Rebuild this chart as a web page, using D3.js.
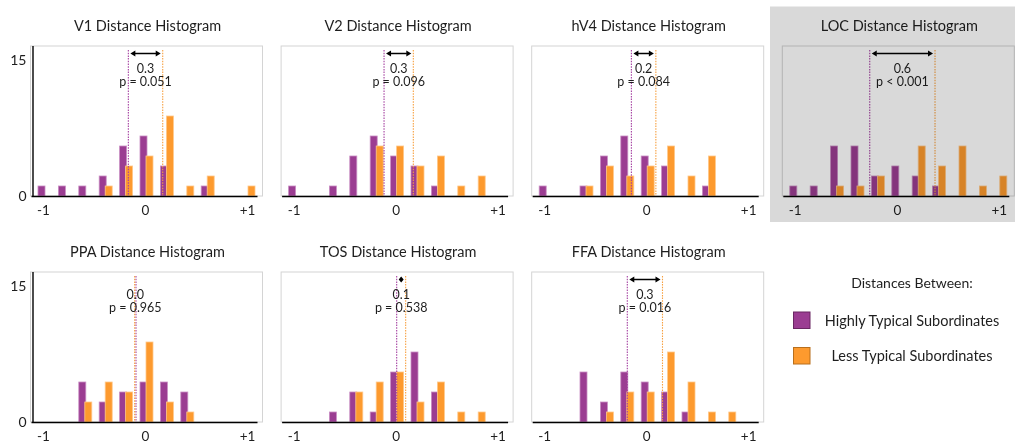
<!DOCTYPE html>
<html>
<head>
<meta charset="utf-8">
<script src="https://cdn.jsdelivr.net/npm/d3@7/dist/d3.min.js"></script>
<style>
  html, body { margin: 0; padding: 0; background: #fff; }
  svg { display: block; font-family: Lato, "Noto Sans", sans-serif; }
</style>
</head>
<body>
<svg id="chart" width="1015" height="443"></svg>
<script>
// Regions of interest, one histogram each
const regions = ["V1", "V2", "hV4", "LOC", "PPA", "TOS", "FFA"];
// Histogram bin centres (distance)
const binCenters = [-1.0, -0.8, -0.6, -0.4, -0.2, 0, 0.2, 0.4, 0.6, 0.8, 1.0];
// Counts per bin: distances between highly typical subordinates
const highCounts = [
  [1, 1, 1, 2, 5, 6, 3, 0, 1, 0, 0],
  [1, 0, 1, 4, 6, 4, 3, 1, 0, 0, 0],
  [1, 0, 1, 4, 6, 4, 3, 0, 1, 0, 0],
  [1, 1, 5, 5, 2, 3, 2, 1, 0, 0, 0],
  [0, 0, 4, 2, 3, 4, 4, 3, 0, 0, 0],
  [0, 0, 1, 3, 1, 5, 7, 3, 0, 0, 0],
  [0, 0, 5, 2, 5, 4, 3, 1, 0, 0, 0]
];
// Counts per bin: distances between less typical subordinates
const lessCounts = [
  [0, 0, 0, 1, 3, 4, 8, 1, 2, 0, 1],
  [0, 0, 0, 0, 5, 5, 3, 4, 1, 2, 0],
  [0, 0, 1, 3, 2, 3, 5, 2, 4, 0, 0],
  [0, 0, 1, 1, 2, 0, 5, 3, 5, 1, 2],
  [0, 0, 2, 4, 3, 8, 2, 1, 0, 0, 0],
  [0, 0, 0, 3, 4, 5, 2, 4, 1, 1, 0],
  [0, 0, 0, 1, 3, 3, 7, 4, 1, 1, 0]
];
// Group means (dotted lines)
const meanHigh = [-0.178, -0.128, -0.16, -0.28, -0.103, -0.004, -0.2];
const meanLess = [0.159, 0.159, 0.08, 0.36, -0.116, 0.084, 0.145];
// Significance of the mean difference
const pLabels = ["p = 0.051", "p = 0.096", "p = 0.084", "p < 0.001", "p = 0.965", "p = 0.538", "p = 0.016"];
// Axis ticks
const xTicks = [-1, 0, 1];
const yTicks = [0, 15];
const legendTitle = "Distances Between:";
const seriesNames = ["Highly Typical Subordinates", "Less Typical Subordinates"];

const PURPLE = "#9b3d92", ORANGE = "#fd9a2e";
const INK = "#1e1e1e";

const svg = d3.select("#chart");

// grid layout: 4 panels on top row, 3 below
const layout = regions.map((r, i) => ({ row: i < 4 ? 0 : 1, col: i < 4 ? i : i - 4 }));

regions.forEach((name, i) => {
  const { row, col } = layout[i];
  const cx = 146.5 + col * 250.6;
  const base = 196 + row * 226;
  const x = d3.scaleLinear().domain([-1, 1]).range([cx - 102, cx + 102]);
  const y = d3.scaleLinear().domain([0, 15]).range([base, base - 150]);
  const g = svg.append("g");

  // light frame around the plot area
  g.append("rect")
    .attr("x", cx - 116).attr("y", y(15))
    .attr("width", 232).attr("height", base - y(15))
    .attr("fill", "none").attr("stroke", "#d4d4d4").attr("stroke-width", 1);

  // title
  g.append("text")
    .attr("x", cx + 1).attr("y", base - 165.5)
    .attr("text-anchor", "middle")
    .attr("font-size", 14.5).attr("fill", INK)
    .text(name + " Distance Histogram");

  // bars
  const bw = 7;
  const hi = binCenters.map((b, k) => ({ b, v: highCounts[i][k] })).filter(d => d.v > 0);
  const lo = binCenters.map((b, k) => ({ b, v: lessCounts[i][k] })).filter(d => d.v > 0);
  g.selectAll(".hi").data(hi).join("rect")
    .attr("x", d => x(d.b) - 6.5).attr("y", d => y(d.v))
    .attr("width", bw).attr("height", d => base - y(d.v))
    .attr("fill", PURPLE).attr("stroke", "#c98ec3").attr("stroke-width", 0.8);
  g.selectAll(".lo").data(lo).join("rect")
    .attr("x", d => x(d.b) - 0.5).attr("y", d => y(d.v))
    .attr("width", bw).attr("height", d => base - y(d.v))
    .attr("fill", ORANGE).attr("stroke", "#ffc98a").attr("stroke-width", 0.8);

  // x baseline
  g.append("line")
    .attr("x1", cx - 115).attr("x2", cx + 111)
    .attr("y1", base + 0.5).attr("y2", base + 0.5)
    .attr("stroke", "#000").attr("stroke-width", 1.6);

  // x tick labels
  g.selectAll(".xt").data(xTicks).join("text")
    .attr("x", d => x(d) - 1).attr("y", base + 19)
    .attr("text-anchor", "middle")
    .attr("font-size", 13.5).attr("fill", INK)
    .text(d => d > 0 ? "+" + d : String(d));

  // y axis only on the first column
  if (col === 0) {
    g.append("line")
      .attr("x1", cx - 113.5).attr("x2", cx - 113.5)
      .attr("y1", y(15)).attr("y2", base + 1)
      .attr("stroke", "#000").attr("stroke-width", 1.4);
    g.selectAll(".yt").data(yTicks).join("text")
      .attr("x", cx - 120).attr("y", d => d === 0 ? y(d) + 5 : y(d) + 18.5)
      .attr("text-anchor", "end")
      .attr("font-size", 14).attr("fill", INK)
      .text(d => d);
  }

  // dotted mean lines
  const top = y(15) + 4;
  [[meanHigh[i], "#a43fa0"], [meanLess[i], "#f7a040"]].forEach(([m, c]) => {
    g.append("line")
      .attr("x1", x(m)).attr("x2", x(m))
      .attr("y1", top).attr("y2", base)
      .attr("stroke", c).attr("stroke-width", 1.1)
      .attr("stroke-dasharray", "1.5,1.2");
  });

  // double-headed arrow between the means
  const xa = Math.min(x(meanHigh[i]), x(meanLess[i])) + 2;
  const xb = Math.max(x(meanHigh[i]), x(meanLess[i])) - 2;
  const ay = y(15) + 7.5;
  const diff = Math.abs(meanLess[i] - meanHigh[i]);
  if (xb - xa > 4) {
    const head = Math.min(5, (xb - xa) / 2);
    g.append("line")
      .attr("x1", xa + head - 0.5).attr("x2", xb - head + 0.5)
      .attr("y1", ay).attr("y2", ay)
      .attr("stroke", "#000").attr("stroke-width", 1.5);
    g.append("path")
      .attr("d", `M${xa},${ay} L${xa + head},${ay - 3} L${xa + head},${ay + 3} Z`
               + `M${xb},${ay} L${xb - head},${ay - 3} L${xb - head},${ay + 3} Z`)
      .attr("fill", "#000");
  }

  // difference and p-value
  const mid = x((meanHigh[i] + meanLess[i]) / 2);
  g.append("text")
    .attr("x", mid).attr("y", y(15) + 26.5)
    .attr("text-anchor", "middle").attr("font-size", 12.5).attr("fill", INK)
    .text(diff.toFixed(1));
  g.append("text")
    .attr("x", mid).attr("y", y(15) + 40)
    .attr("text-anchor", "middle").attr("font-size", 12.5).attr("fill", INK)
    .text(pLabels[i]);
});

// grey highlight over the LOC panel
svg.append("rect")
  .attr("x", 770).attr("y", 6.5).attr("width", 245).attr("height", 215.5)
  .attr("fill", "#d9d9d9").style("mix-blend-mode", "multiply");

// legend
const lg = svg.append("g");
lg.append("text")
  .attr("x", 912).attr("y", 288)
  .attr("text-anchor", "middle").attr("font-size", 14).attr("fill", INK)
  .text(legendTitle);
const swatch = [[PURPLE, "#6a2763"], [ORANGE, "#b86f1c"]];
seriesNames.forEach((s, k) => {
  const yy = 312 + k * 35.5;
  lg.append("rect")
    .attr("x", 793.5).attr("y", yy).attr("width", 16.5).attr("height", 16.5)
    .attr("fill", swatch[k][0]).attr("stroke", swatch[k][1]).attr("stroke-width", 1);
  lg.append("text")
    .attr("x", 912).attr("y", yy + 13.5)
    .attr("text-anchor", "middle").attr("font-size", 14.5).attr("fill", INK)
    .text(s);
});
</script>
</body>
</html>
